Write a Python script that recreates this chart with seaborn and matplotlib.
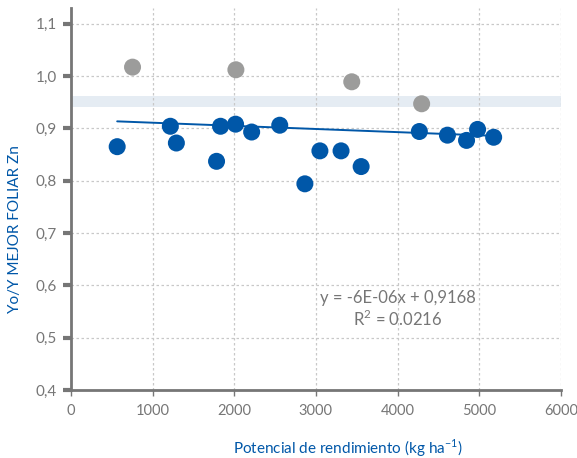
import numpy as np
import pandas as pd
import seaborn as sns
import matplotlib.pyplot as plt
from matplotlib.ticker import FuncFormatter

# Blue points (included in the fit)
x_fit = [566, 1217, 1291, 1783, 1832, 2016, 2213, 2557, 2865, 3049,
         3308, 3554, 4267, 4611, 4845, 4980, 5177]
y_fit = [0.865, 0.904, 0.872, 0.837, 0.904, 0.908, 0.893, 0.906, 0.794, 0.857,
         0.857, 0.827, 0.894, 0.887, 0.877, 0.898, 0.883]

# Gray points (outliers, not in the fit)
x_out = [754, 2020, 3439, 4295]
y_out = [1.017, 1.012, 0.989, 0.947]

# trend line from the chart's equation
slope = -6e-06
intercept = 0.9168
r2 = 0.0216

band_low, band_high = 0.94, 0.962

df = pd.DataFrame({
    'x': x_fit + x_out,
    'y': y_fit + y_out,
    'grupo': ['fit'] * len(x_fit) + ['out'] * len(x_out),
})

blue = '#0057a8'
gray = '#9c9c9b'
axis_gray = '#767676'

sns.set_style('white')
plt.rcParams['font.family'] = ['Lato', 'DejaVu Sans']

fig = plt.figure(figsize=(5.77, 4.58), dpi=100)
ax = fig.add_axes([0.123, 0.1485, 0.849, 0.834])

ax.axhspan(band_low, band_high, color='#e5ecf3', lw=0, zorder=0)

sns.scatterplot(data=df, x='x', y='y', hue='grupo',
                palette={'fit': blue, 'out': gray},
                s=150, edgecolor='none', legend=False, ax=ax, zorder=3)

xl = np.array([min(x_fit), max(x_fit)])
ax.plot(xl, slope * xl + intercept, color=blue, lw=1.4, zorder=2)

ax.set_xlim(0, 6000)
ax.set_ylim(0.4, 1.13)
ax.set_xticks(range(0, 6001, 1000))
ax.set_yticks(np.round(np.arange(0.4, 1.11, 0.1), 1))
ax.yaxis.set_major_formatter(FuncFormatter(lambda v, p: f'{v:.1f}'.replace('.', ',')))

ax.grid(True, color='#c8c8c8', ls=(0, (2, 2)), lw=0.9)
ax.set_axisbelow(True)

for s in ['top', 'right']:
    ax.spines[s].set_visible(False)
for s in ['left', 'bottom']:
    ax.spines[s].set_color(axis_gray)
    ax.spines[s].set_linewidth(2)

ax.tick_params(axis='y', length=6, width=3, color=axis_gray, direction='out',
               labelsize=11, labelcolor=axis_gray, pad=4, left=True)
ax.tick_params(axis='x', length=4, width=1, color=axis_gray, direction='out',
               labelsize=10.5, labelcolor=axis_gray, pad=6, bottom=True)

ax.set_xlabel(r'Potencial de rendimiento (kg ha$^{\mathregular{-1}}$)',
              color=blue, fontsize=11)
ax.xaxis.set_label_coords(0.565, -0.125)
ax.set_ylabel('Yo/Y MEJOR FOLIAR Zn', color=blue, fontsize=11)
ax.yaxis.set_label_coords(-0.1, 0.42)

ax.text(4000, 0.576, 'y = -6E-06x + 0,9168',
        ha='center', va='center', fontsize=12, color=axis_gray)
ax.text(4000, 0.535, f'R$^{{\\mathregular{{2}}}}$ = {r2}', ha='center', va='center',
        fontsize=12, color=axis_gray)

fig.savefig('out.png', dpi=100)
